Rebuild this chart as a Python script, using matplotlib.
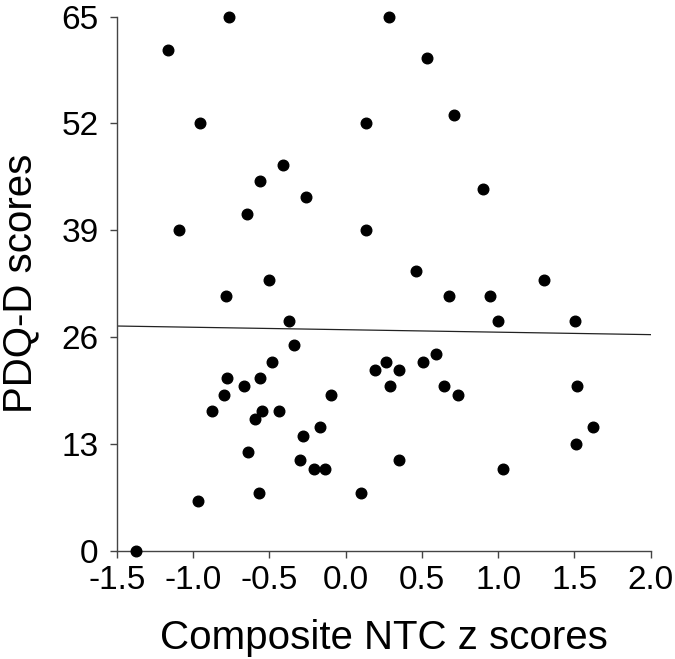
import numpy as np
import matplotlib
matplotlib.use("Agg")
import matplotlib.pyplot as plt

plt.rcParams['font.family'] = ['Liberation Sans', 'DejaVu Sans']

ntc_z = [-0.765, -1.161, -0.951, 0.136, -0.409, -0.562, -0.262, -0.645, -1.093, 0.136,
         -0.500, 0.287, 0.532, 0.714, 0.899, 0.464, 1.298, -0.783, -0.369, -0.338,
         -0.479, 0.191, -0.774, -0.564, -0.667, -0.800, -0.096, -0.877, -0.548, -0.435,
         -0.594, -0.170, -0.277, -0.640, -0.299, -0.207, -0.137, -0.566, 0.103, -0.964,
         -1.375, 0.679, 0.945, 1.002, 1.503, 0.595, 0.265, 0.508, 0.348, 0.294,
         0.646, 0.740, 1.516, 1.621, 1.510, 0.348, 1.035]
pdq_d = [65, 61, 52, 52, 47, 45, 43, 41, 39, 39,
         33, 65, 60, 53, 44, 34, 33, 31, 28, 25,
         23, 22, 21, 21, 20, 19, 19, 17, 17, 17,
         16, 15, 14, 12, 11, 10, 10, 7, 7, 6,
         0, 31, 31, 28, 28, 24, 23, 23, 22, 20,
         20, 19, 20, 15, 13, 11, 10]

x_ticks = [-1.5, -1.0, -0.5, 0.0, 0.5, 1.0, 1.5, 2.0]
x_tick_labels = ['-1.5', '-1.0', '-0.5', '0.0', '0.5', '1.0', '1.5', '2.0']
y_ticks = [0, 13, 26, 39, 52, 65]
fit_x = [-1.5, 2.0]
fit_y = [27.35, 26.30]

fig = plt.figure(figsize=(6.75, 6.59), dpi=100)
ax = fig.add_axes([0.1729, 0.1643, 0.7911, 0.8104])

ax.scatter(ntc_z, pdq_d, s=58, color='black', zorder=3, clip_on=False)
ax.plot(fit_x, fit_y, color='#222222', lw=0.9, zorder=2)

ax.set_xlim(-1.5, 2.0)
ax.set_ylim(0, 65)
ax.set_xticks(x_ticks)
ax.set_xticklabels(x_tick_labels)
ax.set_yticks(y_ticks)

for s in ['top', 'right']:
    ax.spines[s].set_visible(False)
for s in ['left', 'bottom']:
    ax.spines[s].set_color('#444444')
    ax.spines[s].set_linewidth(1.0)

ax.tick_params(axis='both', direction='out', length=5, width=1.0, color='#444444',
               labelsize=24)
ax.tick_params(axis='y', pad=8)
ax.tick_params(axis='x', pad=5)
ax.set_xlabel('Composite NTC z scores', fontsize=29, labelpad=17)
ax.set_ylabel('PDQ-D scores', fontsize=29, labelpad=16)

fig.savefig('out.png', dpi=100)
